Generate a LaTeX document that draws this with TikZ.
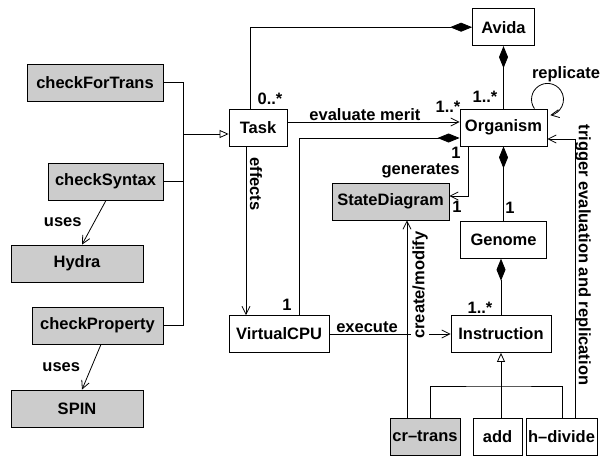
\documentclass[tikz,border=0pt]{standalone}
\usepackage{fontspec}
\setmainfont{Liberation Sans}
\usetikzlibrary{arrows.meta,positioning}

\begin{document}
\begin{tikzpicture}[
x=1pt,y=1pt,
line width=0.8pt,
cls/.style={
  draw,
  minimum height=37pt,
  inner sep=2pt,
  font=\bfseries\fontsize{16.5}{18}\selectfont
},
ext/.style={
  cls,
  fill=black!20
},
lbl/.style={
  inner sep=1pt,
  font=\bfseries\fontsize{16.5}{18}\selectfont
},
dep/.style={-{Straight Barb[length=8pt,width=8pt]}},
gen/.style={-{Triangle[open,length=9pt,width=8pt]}},
comp/.style={-{Diamond[length=22pt,width=9pt]}}
]
\useasboundingbox (0,0) rectangle (604,456);

\node[ext,minimum width=136pt] (cft) at (95,373.5) {checkForTrans};
\node[ext,minimum width=115pt] (csyn) at (105.5,274.5) {checkSyntax};
\node[ext,minimum width=132pt] (hydra) at (77,192.5) {Hydra};
\node[ext,minimum width=131pt] (cprop) at (97.5,130.5) {checkProperty};
\node[ext,minimum width=132pt] (spin) at (77,47.5) {SPIN};
\node[cls,minimum width=58pt] (task) at (258,328.5) {Task};
\node[cls,minimum width=100pt] (cpu) at (279,122) {VirtualCPU};
\node[cls,minimum width=87pt] (org) at (503.5,328.5) {Organism};
\node[cls,minimum width=62pt,above=62.5pt of org] (avida) {Avida};
\node[cls,minimum width=86pt,below=74.5pt of org] (genome) {Genome};
\node[ext,minimum width=117pt] (sd) at (390.5,254.5) {StateDiagram};
\node[cls,minimum width=100pt] (instr) at (501,122) {Instruction};
\node[ext,minimum width=70pt] (crt) at (425,19.5) {cr--trans};
\node[cls,minimum width=49pt] (add) at (497.5,19.5) {add};
\node[cls,minimum width=71pt] (hdiv) at (561.5,19.5) {h--divide};

\coordinate (gx) at (183,322);
\draw (cft.east) -| (gx |- cprop.east) -- (cprop.east);
\draw (csyn.east) -- (csyn.east -| gx);
\draw[gen] (gx) -- (gx -| task.west);

\draw[dep] ([xshift=0.5pt]csyn.south) -- node[lbl,left=11pt] (u1) {uses} ([xshift=5pt]hydra.north);
\draw[dep] ([xshift=3.5pt]cprop.south) -- node[lbl,left=10pt] (u2) {uses} ([xshift=5pt]spin.north);

\draw[comp] ([xshift=-8pt]task.north) |- (avida.west);
\draw[dep] ([yshift=5.5pt]task.east) -- node[lbl,above=0pt,pos=0.45] (em) {evaluate merit} ([yshift=5.5pt]org.west);
\draw[comp] ([xshift=20pt]cpu.north) |- ([yshift=-10.5pt]org.west);
\draw[dep] ([xshift=-12pt]task.south) -- ([xshift=-33pt]cpu.north);
\draw[dep] ([xshift=-35.5pt]org.south) |- ([yshift=5.5pt]sd.east);
\draw[comp] (org.north) -- (avida.south);
\draw[dep] ([xshift=-13pt]org.north east) arc[start angle=215,end angle=-80,radius=16pt];
\draw[comp] (genome.north) -- (org.south);
\draw[comp] (instr.north) -- (instr.north |- genome.south);
\draw[dep] (cpu.east) -- node[lbl,above=0pt,pos=0.31] (ex) {execute} (instr.west);
\draw[dep] ([xshift=-18pt]crt.north) -- ([xshift=16.5pt]sd.south);
\draw[dep] ([xshift=13.5pt]hdiv.north) |- ([yshift=-11.5pt]org.east);

\coordinate (ib) at (501,70);
\draw[gen] (ib) -- (instr.south);
\draw ([xshift=5pt]crt.north) |- (ib) -| ([xshift=0.5pt]hdiv.north);
\draw (ib) -- (ib |- add.north);

\node[lbl] (m1) at (270,357) {0..*};
\node[lbl] (m2) at (448,349) {1..*};
\node[lbl] (m3) at (485,359) {1..*};
\node[lbl] (m4) at (287,151) {1};
\node[lbl] (m5) at (456,303) {1};
\node[lbl] (m6) at (457,249) {1};
\node[lbl] (m7) at (510,248) {1};
\node[lbl] (m8) at (480,148) {1..*};
\node[lbl] (rep) at (566,382) {replicate};
\node[lbl] (gen) at (420.5,285) {generates};
\node[lbl,rotate=-90] (eff) at (256,272) {effects};
\node[lbl,rotate=90,fill=white] (cm) at (420,171) {create/modify};
\node[lbl,rotate=-90] (trig) at (583,201) {trigger evaluation and replication};
\end{tikzpicture}
\end{document}
